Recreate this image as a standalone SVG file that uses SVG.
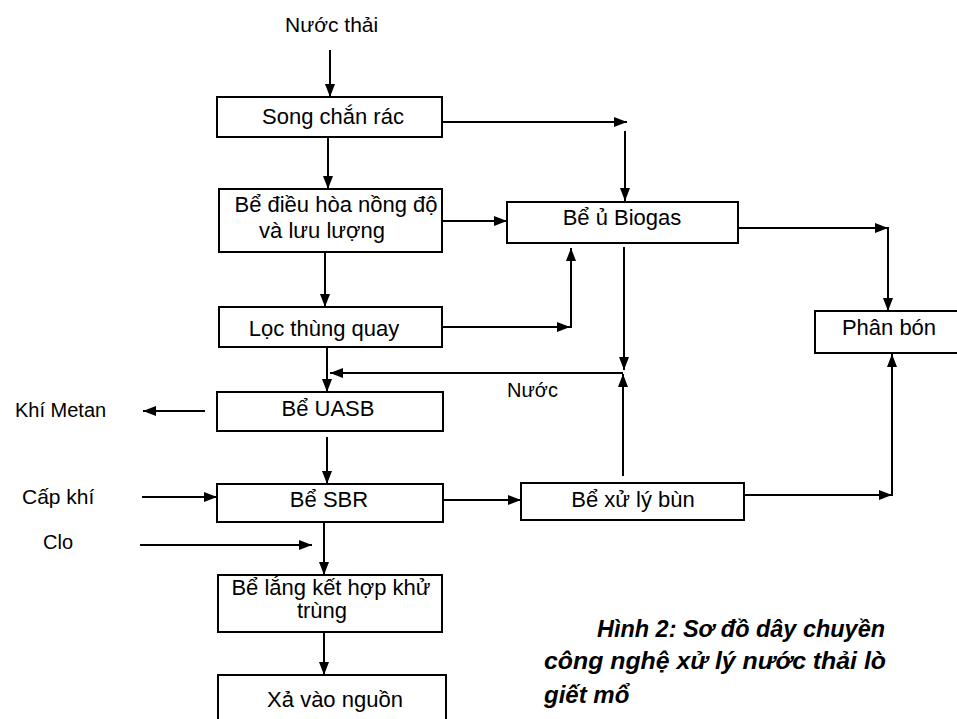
<svg xmlns="http://www.w3.org/2000/svg" width="957" height="719" viewBox="0 0 957 719">
<style>
.box{fill:#fff;stroke:#000;stroke-width:2}
.t{font-family:"Liberation Sans",Arial,sans-serif;font-size:22px;fill:#000;text-anchor:middle}
.s{font-family:"Liberation Sans",Arial,sans-serif;font-size:20px;fill:#000}
.cap{font-family:"Liberation Sans",Arial,sans-serif;font-size:24px;font-weight:bold;font-style:italic;fill:#000}
.c line{stroke:#000;stroke-width:2;fill:none}
.c .a{marker-end:url(#ah)}
</style>
<defs>
<marker id="ah" markerUnits="userSpaceOnUse" markerWidth="14" markerHeight="10" refX="13" refY="5" orient="auto">
<path d="M0,0 L13,5 L0,10 z" fill="#000"/>
</marker>
</defs>
<rect width="957" height="719" fill="#fff"/>
<g class="c" id="connectors">
<line class="a" x1="330" y1="50" x2="330" y2="97"/>
<line class="a" x1="442" y1="122" x2="627" y2="122"/>
<line class="a" x1="625" y1="131" x2="625" y2="201"/>
<line class="a" x1="328" y1="137" x2="328" y2="189"/>
<line class="a" x1="442" y1="221" x2="507" y2="221"/>
<line class="a" x1="325" y1="252" x2="325" y2="307"/>
<line class="a" x1="442" y1="327" x2="570" y2="327"/>
<line class="a" x1="571" y1="328" x2="571" y2="248"/>
<line class="a" x1="624" y1="247" x2="624" y2="370"/>
<line class="a" x1="623" y1="476" x2="623" y2="374"/>
<line class="a" x1="623" y1="373" x2="330" y2="373"/>
<line class="a" x1="327" y1="347" x2="327" y2="392"/>
<line class="a" x1="205" y1="411" x2="143" y2="411"/>
<line class="a" x1="327" y1="437" x2="327" y2="484"/>
<line class="a" x1="142" y1="497" x2="217" y2="497"/>
<line class="a" x1="443" y1="500" x2="521" y2="500"/>
<line class="a" x1="140" y1="545" x2="312" y2="545"/>
<line class="a" x1="324" y1="522" x2="324" y2="575"/>
<line class="a" x1="324" y1="632" x2="324" y2="675"/>
<line class="a" x1="738" y1="228" x2="888" y2="228"/>
<line class="a" x1="888" y1="227" x2="888" y2="311"/>
<line class="a" x1="744" y1="495" x2="892" y2="495"/>
<line class="a" x1="892" y1="496" x2="892" y2="354"/>
</g>
<g id="nuoc-thai"><text class="s" x="285" y="32" style="font-size:21px">Nước thải</text></g>
<g id="song-chan-rac"><rect class="box" x="217" y="97" width="225" height="40"/><text class="t" x="333" y="124">Song chắn rác</text></g>
<g id="be-dieu-hoa"><rect class="box" x="219" y="189" width="223" height="63"/><text class="t" x="336" y="212">Bể điều hòa nồng độ</text><text class="t" x="322" y="238">và lưu lượng</text></g>
<g id="loc-thung-quay"><rect class="box" x="219" y="307" width="223" height="40"/><text class="t" x="324" y="336">Lọc thùng quay</text></g>
<g id="be-uasb"><rect class="box" x="217" y="392" width="226" height="39"/><text class="t" x="328" y="416">Bể UASB</text></g>
<g id="be-sbr"><rect class="box" x="217" y="484" width="226" height="38"/><text class="t" x="329" y="507">Bể SBR</text></g>
<g id="be-lang"><rect class="box" x="218" y="575" width="224" height="57"/><text class="t" x="331" y="595">Bể lắng kết hợp khử</text><text class="t" x="322" y="618">trùng</text></g>
<g id="xa-vao-nguon"><rect class="box" x="218" y="675" width="228" height="50"/><text class="t" x="335" y="707">Xả vào nguồn</text></g>
<g id="be-u-biogas"><rect class="box" x="507" y="202" width="231" height="41"/><text class="t" x="622" y="225">Bể ủ Biogas</text></g>
<g id="phan-bon"><rect class="box" x="815" y="311" width="150" height="42"/><text class="t" x="889" y="335">Phân bón</text></g>
<g id="be-xu-ly-bun"><rect class="box" x="521" y="483" width="223" height="37"/><text class="t" x="633" y="507">Bể xử lý bùn</text></g>
<g id="labels">
<text class="s" x="15" y="417">Khí Metan</text>
<text class="s" x="22" y="504" style="font-size:21px">Cấp khí</text>
<text class="s" x="43" y="549">Clo</text>
<text class="s" x="507" y="397">Nước</text>
</g>
<g id="caption">
<text class="cap" x="597" y="637" textLength="288" lengthAdjust="spacingAndGlyphs">Hình 2: Sơ đồ dây chuyền</text>
<text class="cap" x="544" y="669" textLength="342" lengthAdjust="spacingAndGlyphs">công nghệ xử lý nước thải lò</text>
<text class="cap" x="544" y="703">giết mổ</text>
</g>
</svg>
